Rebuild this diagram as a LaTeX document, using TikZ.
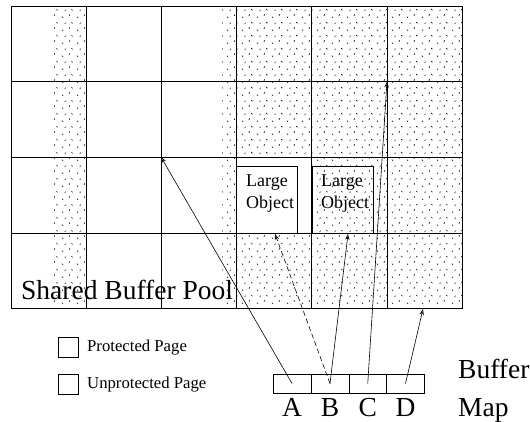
\documentclass[tikz,border=0pt]{standalone}
\usepackage{fontspec}
\setmainfont{Liberation Serif}
\usetikzlibrary{patterns,arrows.meta}

% sparse stipple used for protected pages
\pgfdeclarepatternformonly{stipple}{\pgfpointorigin}{\pgfqpoint{15pt}{13pt}}{\pgfqpoint{15pt}{13pt}}{
  \pgfsetlinewidth{0.6pt}
  \pgfpathmoveto{\pgfqpoint{2pt}{2.5pt}}\pgfpathlineto{\pgfqpoint{3.2pt}{1.3pt}}
  \pgfpathmoveto{\pgfqpoint{9.5pt}{3.5pt}}\pgfpathlineto{\pgfqpoint{10.3pt}{5pt}}
  \pgfpathmoveto{\pgfqpoint{5pt}{8.5pt}}\pgfpathlineto{\pgfqpoint{5.8pt}{10pt}}
  \pgfpathmoveto{\pgfqpoint{12pt}{10.5pt}}\pgfpathlineto{\pgfqpoint{13.2pt}{9.3pt}}
  \pgfusepath{stroke}
}

\begin{document}
\begin{tikzpicture}[
  x=1pt, y=-1pt,
  protected/.style={pattern=stipple, draw=none},
  gridline/.style={draw=black, line width=0.9pt},
  objbox/.style={draw=black, line width=0.7pt, anchor=north west, minimum width=61pt, minimum height=67pt, inner sep=0pt},
  objtext/.style={align=left, anchor=base west, inner sep=0pt, font=\fontsize{18}{21}\selectfont},
  mapcell/.style={draw=black, line width=0.7pt, minimum width=37.75pt, minimum height=19pt, inner sep=0pt},
  keybox/.style={draw=black, line width=0.7pt, minimum size=19.5pt, inner sep=0pt, anchor=north west},
  keytext/.style={anchor=base west, inner sep=0pt, font=\fontsize{16.7}{18}\selectfont},
  bigtext/.style={inner sep=0pt, font=\fontsize{27.5}{30}\selectfont},
  ptr/.style={-{Stealth[open, length=6pt, width=4.5pt]}, line width=0.6pt},
  ptr_maybe/.style={ptr, dashed, dash pattern=on 5pt off 3pt}
]
\useasboundingbox (0,0) rectangle (530,422);

% --- Stippled (protected) regions ---
\fill[protected] (52,6) rectangle (86,308);
\fill[protected] (222,6) rectangle (236,308);
\fill[protected] (236,6) rectangle (462,157);
\fill[protected] (311.5,157) rectangle (462,233);
\fill[protected] (236,233) rectangle (462,308);

% --- Large objects ---
\node[objbox, fill=white] (obj1) at (236,166) {};
\node[objbox] (obj2) at (311.5,166) {};
\node[objtext] at (246,208) {Large\\Object};
\node[objtext] at (321,208) {Large\\Object};

% --- Buffer pool grid ---
\foreach \x in {86,161,236,311.5,387} {
  \draw[gridline] (\x,6) -- (\x,308);
}
\foreach \y in {81.5,157,233} {
  \draw[gridline] (11,\y) -- (462,\y);
}
\draw[gridline] (11,6) rectangle (462,308);

\node[bigtext, anchor=base west] (pool) at (21,299) {Shared Buffer Pool};

% --- Legend ---
\node[keybox] (kprot) at (58,337) {};
\node[keytext] at (87,351) {Protected Page};
\node[keybox] (kunprot) at (58,374) {};
\node[keytext] at (87,388) {Unprotected Page};

% --- Buffer map ---
\foreach \k/\x in {A/292,B/330,C/367.75,D/405.5} {
  \node[mapcell] (map\k) at (\x,383.5) {};
  \node[bigtext, anchor=base] at (\x,416) {\k};
}
\node[bigtext, anchor=base west] at (458,378) {Buffer};
\node[bigtext, anchor=base west] at (458,416) {Map};

% --- Pointers into the pool ---
\coordinate (tA) at (161,157);
\coordinate (tB1) at (275,234);
\coordinate (tB2) at (348,234);
\coordinate (tC) at (387,81.5);
\coordinate (tD) at (423,309);

\draw[ptr] (mapA.center) -- (tA);
\draw[ptr_maybe] (mapB.center) -- (tB1);
\draw[ptr] (mapB.center) -- (tB2);
\draw[ptr] (mapC.center) -- (tC);
\draw[ptr] (mapD.center) -- (tD);

\end{tikzpicture}
\end{document}
